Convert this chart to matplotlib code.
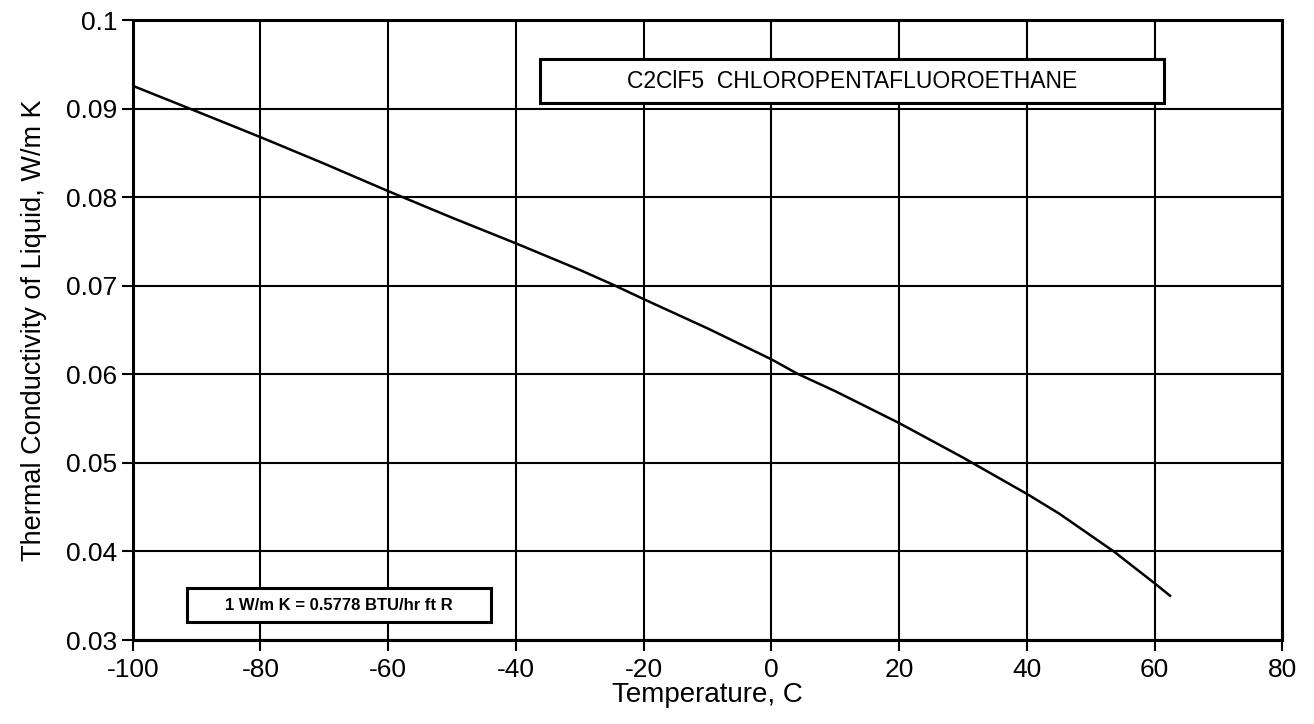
import matplotlib.pyplot as plt
from matplotlib.patches import Rectangle
import numpy as np

# values
temp_c = [-100, -91, -80, -70, -60, -50, -40, -30, -25, -20, -10, 0, 4, 10, 20, 30, 40, 45, 53.6, 60, 62.4]
k_liquid = [0.0926, 0.0900, 0.0868, 0.0838, 0.0807, 0.0777, 0.0748, 0.0718, 0.0702, 0.0685, 0.0652, 0.0617, 0.0601, 0.0581, 0.0545, 0.0506, 0.0465, 0.0443, 0.0400, 0.0364, 0.0350]

x_ticks = [-100, -80, -60, -40, -20, 0, 20, 40, 60, 80]
y_ticks = [0.03, 0.04, 0.05, 0.06, 0.07, 0.08, 0.09, 0.1]
y_labels = ['0.03', '0.04', '0.05', '0.06', '0.07', '0.08', '0.09', '0.1']

title_txt = 'C2ClF5  CHLOROPENTAFLUOROETHANE'
conv_txt = '1 W/m K = 0.5778 BTU/hr ft R'

plt.rcParams['font.family'] = ['Liberation Sans', 'DejaVu Sans']
plt.rcParams['axes.unicode_minus'] = False

fig = plt.figure(figsize=(13.14, 7.24), dpi=100)
ax = fig.add_axes([0.101, 0.116, 0.875, 0.856])

ax.plot(temp_c, k_liquid, color='black', lw=1.8)

ax.set_xlim(-100, 80)
ax.set_ylim(0.03, 0.1)
ax.set_xticks(x_ticks)
ax.set_yticks(y_ticks)
ax.set_yticklabels(y_labels)
ax.tick_params(axis='both', direction='out', length=8, width=1.5, labelsize=19, pad=1)
ax.tick_params(axis='x', pad=5)
ax.tick_params(axis='y', pad=3)
ax.grid(True, color='black', lw=1.5)
for s in ax.spines.values():
	s.set_linewidth(2.2)

ax.set_xlabel('Temperature, C', fontsize=20, labelpad=0)
ax.set_ylabel('Thermal Conductivity of Liquid, W/m K', fontsize=19.5, labelpad=14)

# label boxes (axes coords)
r1 = Rectangle((0.354, 0.866), 0.543, 0.071, transform=ax.transAxes,
	facecolor='white', edgecolor='black', lw=2.2, zorder=5)
ax.add_patch(r1)
ax.text(0.354 + 0.543 / 2, 0.866 + 0.071 / 2, title_txt, transform=ax.transAxes,
	ha='center', va='center', fontsize=16.5, zorder=6)

r2 = Rectangle((0.047, 0.029), 0.265, 0.055, transform=ax.transAxes,
	facecolor='white', edgecolor='black', lw=2.2, zorder=5)
ax.add_patch(r2)
ax.text(0.047 + 0.265 / 2, 0.029 + 0.055 / 2, conv_txt, transform=ax.transAxes,
	ha='center', va='center', fontsize=12, fontweight='bold', zorder=6)

fig.savefig('out.png', dpi=100)
